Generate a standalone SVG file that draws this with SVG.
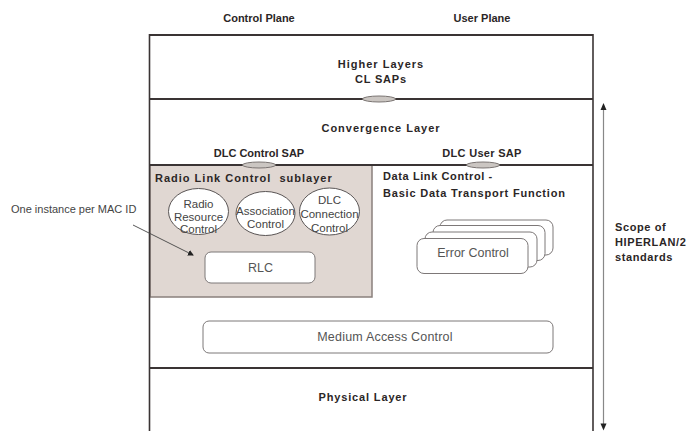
<svg xmlns="http://www.w3.org/2000/svg" width="691" height="431" viewBox="0 0 691 431">
<defs>
<style>
.b{font-family:"Liberation Sans",Arial,sans-serif;font-weight:bold;font-size:11px;fill:#2b2626}
.n{font-family:"Liberation Sans",Arial,sans-serif;font-size:11px;fill:#444}
.e{font-family:"Liberation Sans",Arial,sans-serif;font-size:11.5px;fill:#444}
.g{font-family:"Liberation Sans",Arial,sans-serif;font-size:12.5px;fill:#555}
.frame{stroke:#3a3434;fill:none}
.sap{fill:#cbc6c2;stroke:#7a7472;stroke-width:1}
.box{fill:#fff;stroke:#7d7878;stroke-width:1}
.ell{fill:#fff;stroke:#5a5555;stroke-width:1}
</style>
<marker id="ah" markerWidth="6" markerHeight="6" refX="5" refY="3" orient="auto" markerUnits="userSpaceOnUse">
<path d="M0,0 L6,3 L0,6 z" fill="#222"/>
</marker>
</defs>
<rect width="691" height="431" fill="#fff"/>

<g id="plane-labels">
<text class="b" x="259" y="22" text-anchor="middle">Control Plane</text>
<text class="b" x="482" y="21.5" text-anchor="middle">User Plane</text>
</g>

<g id="rlc-sublayer">
<rect x="150" y="165" width="222" height="132" fill="#e0d7d2" stroke="#8a807c" stroke-width="1.5"/>
<text class="b" x="155" y="182" letter-spacing="1" xml:space="preserve">Radio Link Control  sublayer</text>
</g>

<g id="frame">
<line class="frame" x1="149" y1="35" x2="593" y2="35" stroke-width="1.8"/>
<line class="frame" x1="149" y1="99" x2="593" y2="99" stroke-width="2.2"/>
<line class="frame" x1="149" y1="165" x2="593" y2="165" stroke-width="2.2"/>
<line class="frame" x1="149" y1="368" x2="593" y2="368" stroke-width="2.2"/>
<line class="frame" x1="149.5" y1="34" x2="149.5" y2="431" stroke-width="1.6"/>
<line class="frame" x1="593" y1="34" x2="593" y2="431" stroke-width="1.6"/>
</g>

<g id="higher-layers">
<text class="b" x="381" y="68" text-anchor="middle" letter-spacing="1">Higher Layers</text>
<text class="b" x="381" y="83" text-anchor="middle" letter-spacing="0.8">CL SAPs</text>
<ellipse class="sap" cx="379" cy="99" rx="16.5" ry="3"/>
</g>

<g id="convergence-layer">
<text class="b" x="381" y="132" text-anchor="middle" letter-spacing="1">Convergence Layer</text>
<text class="b" x="259" y="157" text-anchor="middle" font-size="10.5">DLC Control SAP</text>
<text class="b" x="482" y="157" text-anchor="middle" font-size="10.5" letter-spacing="0.3">DLC User SAP</text>
<ellipse class="sap" cx="259" cy="165" rx="16.5" ry="3"/>
<ellipse class="sap" cx="483" cy="165" rx="16.5" ry="3"/>
</g>

<g id="radio-resource-control">
<ellipse class="ell" cx="198.5" cy="211.5" rx="30" ry="23"/>
<text class="e" x="198.5" y="207.5" text-anchor="middle">Radio</text>
<text class="e" x="198.5" y="220.5" text-anchor="middle">Resource</text>
<text class="e" x="198.5" y="233" text-anchor="middle">Control</text>
</g>

<g id="association-control">
<ellipse class="ell" cx="265.5" cy="213.5" rx="29.5" ry="22"/>
<text class="e" x="265.5" y="215" text-anchor="middle">Association</text>
<text class="e" x="265.5" y="228" text-anchor="middle">Control</text>
</g>

<g id="dlc-connection-control">
<ellipse class="ell" cx="329.5" cy="211.5" rx="30" ry="23.5"/>
<text class="e" x="329.5" y="203.5" text-anchor="middle">DLC</text>
<text class="e" x="329.5" y="217.5" text-anchor="middle">Connection</text>
<text class="e" x="329.5" y="231.5" text-anchor="middle">Control</text>
</g>

<g id="rlc">
<rect class="box" x="205" y="252" width="110" height="31" rx="6"/>
<text class="g" x="260.5" y="271.5" text-anchor="middle">RLC</text>
</g>

<g id="data-link-control">
<text class="b" x="383" y="180" letter-spacing="0.6">Data Link Control -</text>
<text class="b" x="383" y="197" letter-spacing="0.8">Basic Data Transport Function</text>
</g>

<g id="error-control">
<rect class="box" x="440" y="220" width="113" height="35" rx="7"/>
<rect class="box" x="433" y="225.5" width="112" height="35" rx="7"/>
<rect class="box" x="425" y="232" width="112" height="35" rx="7"/>
<rect class="box" x="417" y="238.5" width="111" height="35" rx="7"/>
<text class="g" x="473" y="256.5" text-anchor="middle">Error Control</text>
</g>

<g id="medium-access-control">
<rect class="box" x="203" y="321" width="350" height="32" rx="6"/>
<text class="g" x="385" y="341" text-anchor="middle" letter-spacing="0.2">Medium Access Control</text>
</g>

<g id="physical-layer">
<text class="b" x="363" y="401" text-anchor="middle" letter-spacing="0.85">Physical Layer</text>
</g>

<g id="annotation">
<text class="n" x="11" y="213">One instance per MAC ID</text>
</g>

<g id="scope">
<text class="b" x="615" y="231" letter-spacing="0.6">Scope of</text>
<text class="b" x="615" y="246" letter-spacing="0.6">HIPERLAN/2</text>
<text class="b" x="615" y="260.5" letter-spacing="0.6">standards</text>
</g>

<g id="connectors">
<line x1="133" y1="225" x2="193" y2="255" stroke="#444" stroke-width="0.9" marker-end="url(#ah)"/>
<line x1="603.5" y1="110" x2="603.5" y2="424" stroke="#888" stroke-width="1.2"/>
<path d="M603.5,103 L600.5,110 L606.5,110 z" fill="#222"/>
<path d="M603.5,430.5 L600.5,423.5 L606.5,423.5 z" fill="#222"/>
</g>
</svg>
